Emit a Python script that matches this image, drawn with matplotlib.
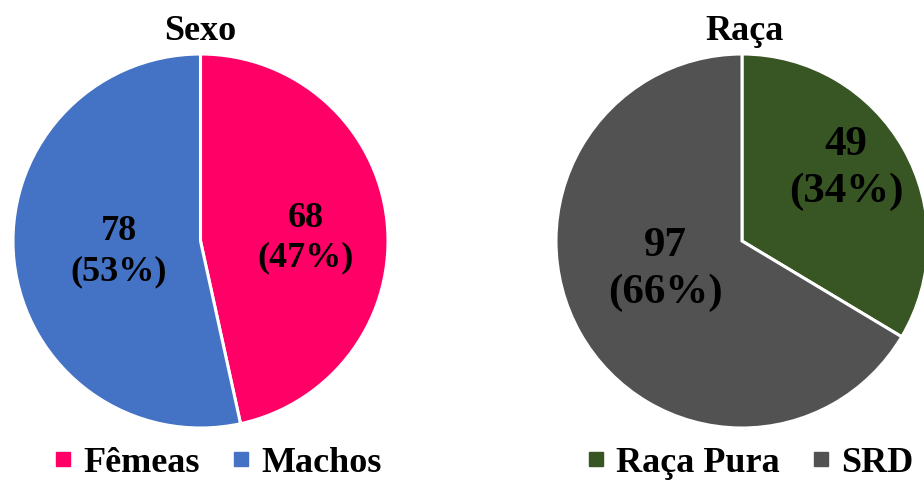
import numpy as np
import matplotlib.pyplot as plt
from matplotlib.lines import Line2D

plt.rcParams['font.family'] = ['Liberation Serif', 'DejaVu Serif']
plt.rcParams['font.weight'] = 'bold'

# Sexo
sexo_labels = ['Fêmeas', 'Machos']
sexo_counts = [68, 78]
sexo_colors = ['#FF0066', '#4472C4']

# Raça
raca_labels = ['Raça Pura', 'SRD']
raca_counts = [49, 97]
raca_colors = ['#375623', '#525252']

fig = plt.figure(figsize=(9.24, 4.8), dpi=100)
fig.patch.set_facecolor('white')


def draw_pie(rect, counts, colors, label_pos, label_size, title, title_x, labels, legend_x):
    ax = fig.add_axes(rect)
    total = sum(counts)
    wedges, _ = ax.pie(counts, colors=colors, startangle=90, counterclock=False,
                       radius=1.0, wedgeprops=dict(edgecolor='white', linewidth=2.2))
    ax.set_xlim(-1.0, 1.0)
    ax.set_ylim(-1.0, 1.0)
    ax.set_aspect('auto')
    ax.axis('off')
    # value labels: distance from centre and angular offset from the wedge middle
    for w, n, (d, off) in zip(wedges, counts, label_pos):
        mid = np.deg2rad((w.theta1 + w.theta2) / 2 + off)
        ax.text(d * np.cos(mid), d * np.sin(mid),
                f'{n}\n({round(100 * n / total)}%)', ha='center', va='center',
                fontsize=label_size, fontweight='bold', linespacing=1.28)
    fig.text(title_x, 0.935, title, ha='center', va='center', fontsize=26, fontweight='bold')
    handles = [Line2D([], [], marker='s', linestyle='none', markersize=9.4,
                      markerfacecolor=c, markeredgecolor=c) for c in colors]
    fig.legend(handles, labels, loc='center', bbox_to_anchor=(legend_x, 0.035), ncol=2,
               frameon=False, handlelength=0.4, handletextpad=0.36,
               columnspacing=0.95, prop={'weight': 'bold', 'size': 26})
    return ax


draw_pie([13 / 924, 52 / 480, 375 / 924, 374 / 480], sexo_counts, sexo_colors,
         [(0.56, -4.6), (0.44, 1.5)], 26, 'Sexo', 200 / 924, sexo_labels, 219 / 924)
draw_pie([556 / 924, 52 / 480, 372 / 924, 374 / 480], raca_counts, raca_colors,
         [(0.68, 5), (0.44, -9.5)], 31, 'Raça', 745 / 924, raca_labels, 751 / 924)

fig.savefig('out.png', dpi=100, facecolor='white')
